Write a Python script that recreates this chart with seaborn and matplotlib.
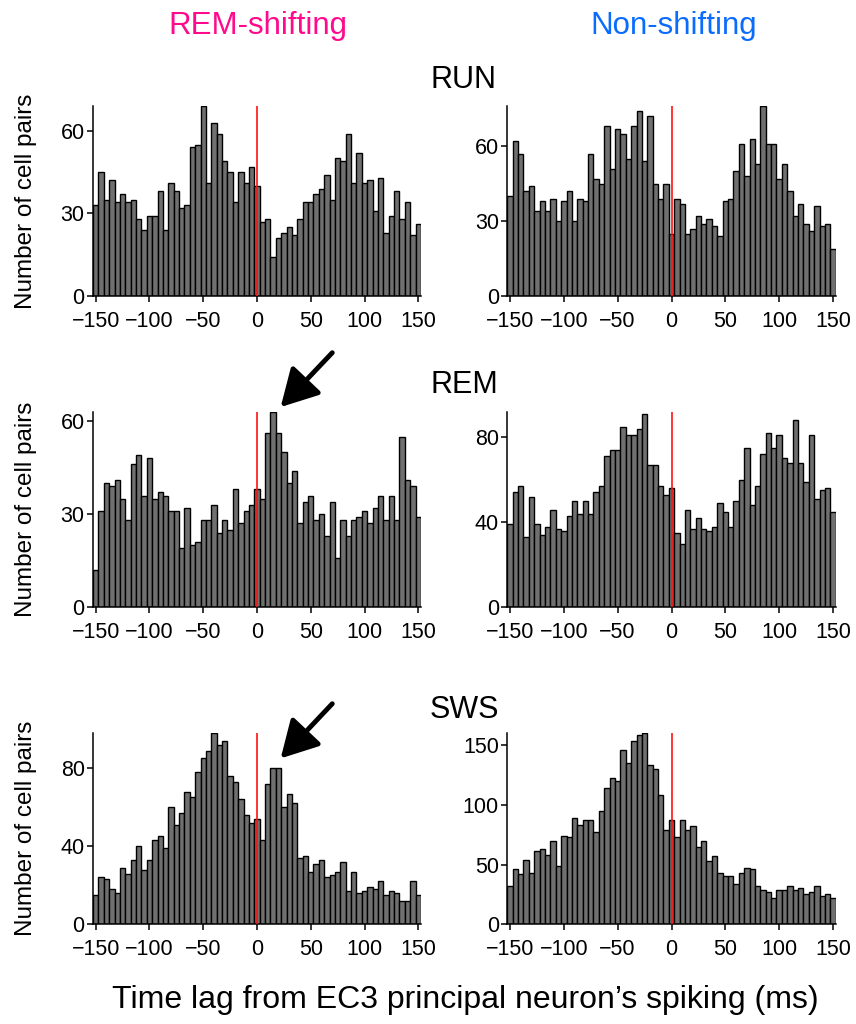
import numpy as np
import pandas as pd
import matplotlib
matplotlib.use("Agg")
import matplotlib.pyplot as plt
import seaborn as sns

# ---- data: bin centers -150..150 step 5 (61 bins) ----
lags = list(range(-150, 155, 5))

run_shift = [33, 45, 35, 42, 34, 37, 34, 35, 28, 24, 29, 29, 38, 24, 41, 38, 32, 33, 54, 55,
             69, 41, 63, 59, 49, 45, 34, 45, 41, 47, 40,
             27, 28, 14, 21, 23, 25, 22, 28, 34, 34, 37, 39, 44, 35, 50, 49, 59, 41, 52, 41,
             42, 31, 43, 23, 29, 38, 28, 34, 22, 26]
run_non = [40, 62, 57, 42, 44, 34, 38, 34, 39, 30, 38, 42, 30, 39, 38, 57, 47, 45, 68, 51,
           67, 65, 55, 68, 74, 54, 72, 45, 39, 45, 25,
           39, 37, 25, 27, 32, 29, 31, 28, 24, 38, 39, 50, 61, 48, 63, 53, 76, 61, 61, 47,
           53, 42, 32, 37, 29, 26, 36, 28, 29, 19]
rem_shift = [12, 31, 40, 39, 41, 35, 28, 46, 49, 36, 48, 35, 37, 36, 31, 31, 19, 32, 20, 21,
             28, 28, 33, 24, 28, 25, 38, 27, 31, 33, 38,
             35, 56, 63, 56, 50, 40, 44, 27, 34, 36, 28, 30, 23, 34, 16, 28, 23, 28, 29, 31,
             27, 32, 36, 28, 36, 28, 55, 41, 39, 29]
rem_non = [39, 54, 57, 33, 52, 39, 34, 38, 46, 37, 36, 43, 50, 44, 50, 44, 54, 57, 71, 74,
           74, 85, 81, 81, 84, 91, 67, 67, 57, 53, 56,
           35, 30, 46, 37, 42, 37, 36, 38, 49, 45, 38, 50, 60, 75, 48, 57, 72, 82, 75, 81,
           70, 68, 88, 68, 59, 81, 51, 55, 56, 45]
sws_shift = [15, 24, 23, 18, 16, 29, 26, 33, 40, 28, 33, 43, 45, 39, 60, 51, 57, 68, 65, 78,
             85, 89, 98, 92, 94, 76, 73, 64, 56, 52, 54,
             43, 72, 80, 80, 60, 67, 62, 34, 35, 27, 31, 33, 24, 25, 27, 32, 17, 27, 16, 17,
             19, 18, 22, 15, 17, 16, 12, 12, 22, 15]
sws_non = [32, 46, 42, 54, 43, 61, 63, 58, 70, 49, 74, 73, 89, 83, 87, 87, 77, 95, 114, 122,
           120, 146, 135, 153, 158, 160, 133, 130, 108, 79, 87,
           73, 87, 79, 82, 65, 70, 53, 57, 43, 40, 40, 34, 43, 47, 46, 32, 29, 27, 22, 29,
           29, 32, 29, 30, 25, 27, 32, 24, 25, 22]

group_titles = ["REM-shifting", "Non-shifting"]
state_titles = ["RUN", "REM", "SWS"]
x_ticks = [-150, -100, -50, 0, 50, 100, 150]
y_ticks = [[0, 30, 60], [0, 30, 60], [0, 30, 60], [0, 40, 80], [0, 40, 80], [0, 50, 100, 150]]
y_tops = [69, 76, 63, 92, 98, 160]
xlabel = "Time lag from EC3 principal neuron\u2019s spiking (ms)"
ylabel = "Number of cell pairs"

panels = [run_shift, run_non, rem_shift, rem_non, sws_shift, sws_non]

sns.set_theme(style="ticks")
plt.rcParams["font.family"] = ["Liberation Sans", "DejaVu Sans"]
plt.rcParams["axes.unicode_minus"] = True

fig = plt.figure(figsize=(8.56, 10.24), dpi=100)

W, H = 856.0, 1024.0
col_x = [(93, 421), (507.3, 835.7)]
row_y = [(106, 296), (411.7, 607.3), (733, 924.3)]

axes = []
for r in range(3):
    for c in range(2):
        i = r * 2 + c
        x0, x1 = col_x[c]
        yt, yb = row_y[r]
        ax = fig.add_axes([x0 / W, 1 - yb / H, (x1 - x0) / W, (yb - yt) / H])
        df = pd.DataFrame({"lag": lags, "count": panels[i]})
        sns.histplot(data=df, x="lag", weights="count", binwidth=5,
                     binrange=(-152.5, 152.5), ax=ax,
                     color="#707070", edgecolor="black", linewidth=1.0, alpha=1.0)
        ax.axvline(0, color="#ff1010", lw=1.2, zorder=5)
        ax.set_xlim(-152.5, 152.5)
        ax.set_ylim(0, y_tops[i])
        ax.set_xticks(x_ticks)
        ax.set_yticks(y_ticks[i])
        ax.set_xlabel("")
        ax.set_ylabel("")
        for s in ["top", "right"]:
            ax.spines[s].set_visible(False)
        for s in ["left", "bottom"]:
            ax.spines[s].set_linewidth(1.1)
            ax.spines[s].set_color("black")
        ax.tick_params(axis="x", direction="out", length=4, width=1.1,
                       labelsize=15.5, colors="black", pad=6.5)
        ax.tick_params(axis="y", direction="out", length=4, width=1.1,
                       labelsize=15.5, colors="black", pad=2)
        if c == 0:
            ax.set_ylabel(ylabel, fontsize=17.5, color="black")
            ax.yaxis.set_label_coords(-0.17, 0.5)
        axes.append(ax)

# column and row titles
fig.text(258 / W, 1 - 26 / H, group_titles[0], color="#ff0a8c", fontsize=22.5,
         ha="center", va="center")
fig.text(674 / W, 1 - 26 / H, group_titles[1], color="#0a6cff", fontsize=22.5,
         ha="center", va="center")
for r, yc in enumerate([80, 385, 710]):
    fig.text(464 / W, 1 - yc / H, state_titles[r], color="black", fontsize=22,
             ha="center", va="center")
fig.text(465 / W, 1 - 1000 / H, xlabel, color="black", fontsize=23,
         ha="center", va="center")

# arrows pointing at the post-zero peaks of REM-shifting cells
arrow_kw = dict(arrowstyle="-|>,head_length=0.9,head_width=0.5", mutation_scale=25,
                lw=3.5, color="black", shrinkA=0, shrinkB=0)
axes[2].annotate("", xy=(22, 64.5), xytext=(70, 82), xycoords="data",
                 arrowprops=arrow_kw, annotation_clip=False)
axes[4].annotate("", xy=(22, 85), xytext=(70, 113), xycoords="data",
                 arrowprops=arrow_kw, annotation_clip=False)

fig.savefig("out.png", dpi=100, facecolor="white")
